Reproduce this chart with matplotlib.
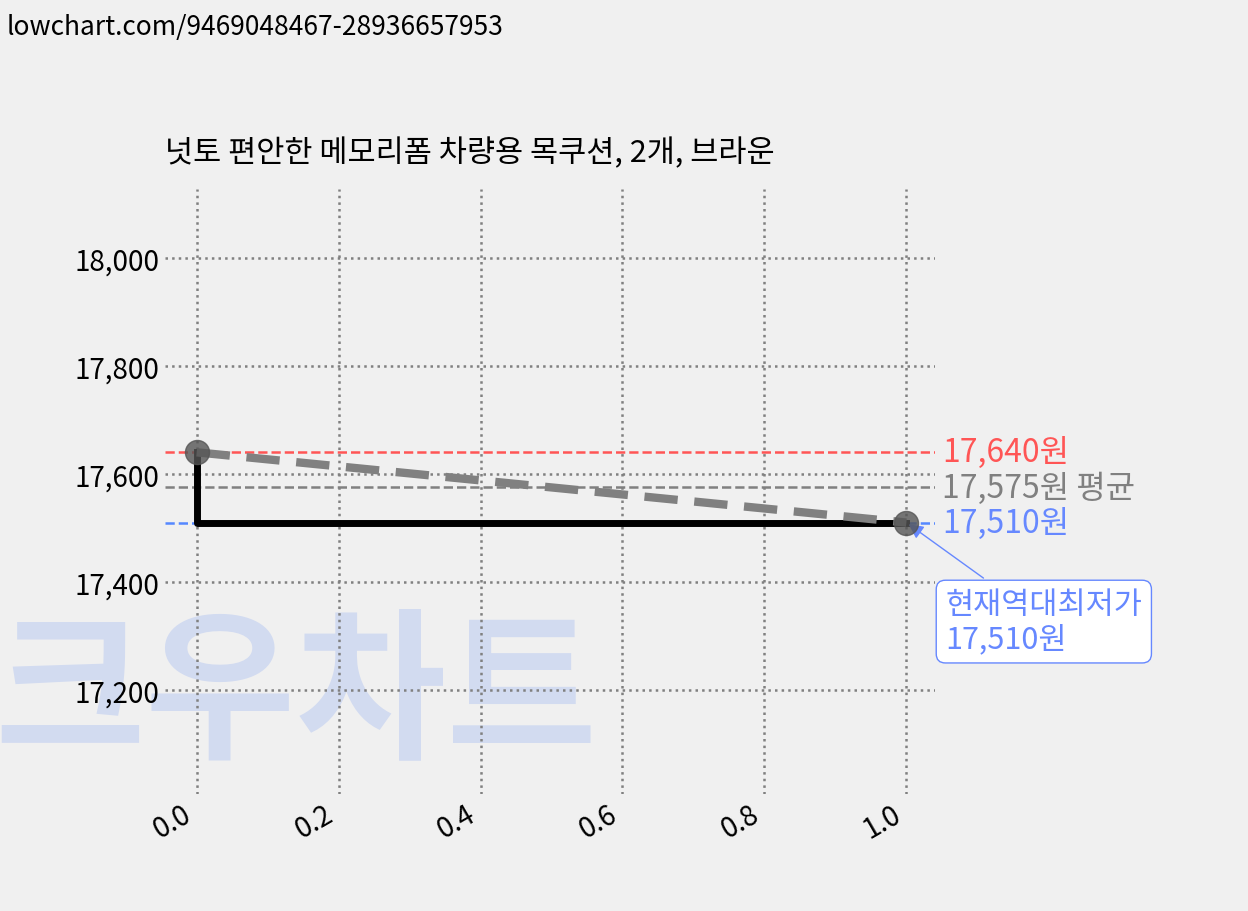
import matplotlib
matplotlib.use('Agg')
import matplotlib.pyplot as plt

plt.rcParams['font.family'] = ['Noto Sans CJK KR', 'DejaVu Sans']

title = '넛토 편안한 메모리폼 차량용 목쿠션, 2개, 브라운'
x = [0.0, 1.0]
price = [17640, 17510]
step_x = [0.0, 0.0, 1.0]
step_y = [17640, 17510, 17510]
max_p, avg_p, min_p = 17640, 17575, 17510

fig = plt.figure(figsize=(12.48, 9.12), dpi=100, facecolor='#f0f0f0')
ax = fig.add_axes([0.132, 0.128, 0.617, 0.664], facecolor='none')

fig.text(0.005, 0.985, 'lowchart.com/9469048467-28936657953', fontsize=19, va='top')
fig.text(-0.005, 0.235, '크우차트', fontsize=118, color='#c8d4f0', alpha=0.75,
         fontweight='heavy', va='center', zorder=-1)

ax.plot(step_x, step_y, color='black', lw=5, zorder=3)
ax.plot(x, price, color='gray', lw=6, ls=(0, (4, 2)), zorder=4)
ax.scatter(x, price, s=300, color='#555555', alpha=0.8, zorder=5)

ax.axhline(max_p, color='#ff5555', ls='--', lw=1.8)
ax.axhline(avg_p, color='gray', ls='--', lw=1.8)
ax.axhline(min_p, color='#5588ff', ls='--', lw=1.8)

ax.text(1.05, max_p, '17,640원', color='#ff5555', fontsize=23, va='center')
ax.text(1.05, avg_p, '17,575원 평균', color='gray', fontsize=23, va='center')
ax.text(1.05, min_p, '17,510원', color='#6688ff', fontsize=23, va='center')

ax.annotate('현재역대최저가\n17,510원', xy=(1.0, 17510), xytext=(1.055, 17280),
            fontsize=22, color='#6688ff', linespacing=1.1,
            bbox=dict(boxstyle='round,pad=0.3', fc='white', ec='#6688ff'),
            arrowprops=dict(arrowstyle='-|>', color='#6688ff'))

ax.set_xlim(-0.045, 1.04)
ax.set_ylim(17007, 18128)
ax.set_yticks([17200, 17400, 17600, 17800, 18000])
ax.set_yticklabels(['17,200', '17,400', '17,600', '17,800', '18,000'])
ax.set_xticks([0.0, 0.2, 0.4, 0.6, 0.8, 1.0])
ax.tick_params(labelsize=20, length=0)
plt.setp(ax.get_xticklabels(), rotation=30, ha='right')
ax.grid(True, ls=':', color='gray', lw=1.8)
for s in ax.spines.values():
    s.set_visible(False)
ax.set_title(title, fontsize=22, pad=20, loc='left')

fig.savefig('out.png', dpi=100, facecolor=fig.get_facecolor())
